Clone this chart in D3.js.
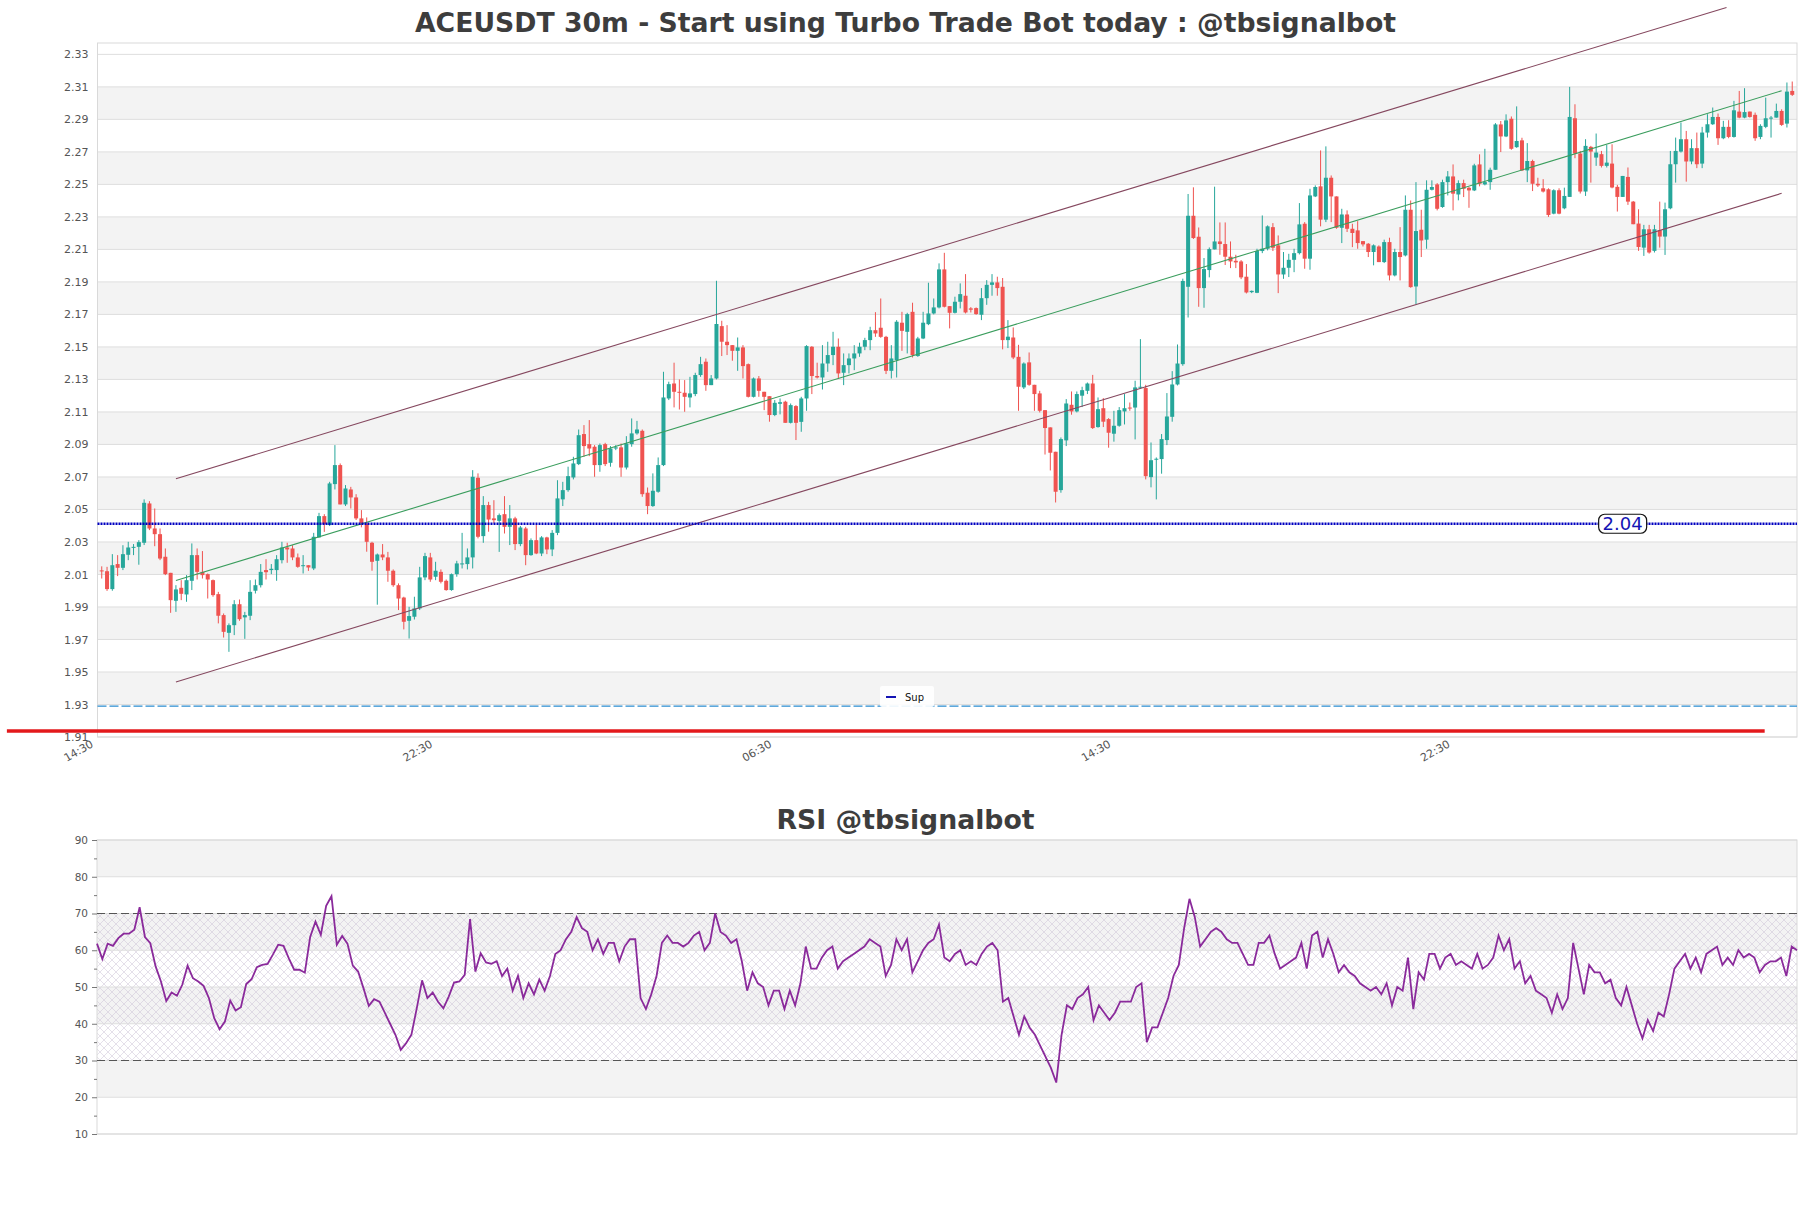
<!DOCTYPE html>
<html><head><meta charset="utf-8">
<script src="https://cdn.jsdelivr.net/npm/d3@7"></script>
<style>body{margin:0;background:#fff}svg{display:block}</style>
</head><body><svg id="c" width="1811" height="1208"></svg>
<script>
const titleText = "ACEUSDT 30m - Start using Turbo Trade Bot today : @tbsignalbot";
const rsiTitle = "RSI @tbsignalbot";
const openP = [2.0125,2.0120,2.0010,2.0164,2.0141,2.0221,2.0266,2.0270,2.0295,2.0537,2.0383,2.0348,2.0209,2.0110,1.9938,2.0018,1.9977,2.0061,2.0219,2.0116,2.0102,2.0065,1.9979,1.9850,1.9741,1.9788,1.9917,1.9836,1.9846,2.0000,2.0034,2.0127,2.0127,2.0127,2.0188,2.0266,2.0260,2.0205,2.0151,2.0157,2.0137,2.0328,2.0459,2.0404,2.0656,2.0773,2.0531,2.0623,2.0574,2.0445,2.0414,2.0295,2.0184,2.0223,2.0205,2.0123,2.0034,1.9958,1.9815,1.9840,1.9891,2.0082,2.0205,2.0086,2.0116,2.0061,2.0004,2.0102,2.0164,2.0164,2.0205,2.0695,2.0336,2.0527,2.0445,2.0430,2.0471,2.0393,2.0445,2.0287,2.0383,2.0219,2.0311,2.0229,2.0328,2.0254,2.0356,2.0562,2.0619,2.0697,2.0779,2.0964,2.0902,2.0886,2.0773,2.0902,2.0787,2.0875,2.0882,2.0758,2.0902,2.0968,2.0984,2.0603,2.0521,2.0609,2.0773,2.1183,2.1275,2.1224,2.1218,2.1189,2.1210,2.1327,2.1409,2.1265,2.1306,2.1628,2.1532,2.1511,2.1476,2.1497,2.1394,2.1193,2.1306,2.1224,2.1197,2.1081,2.1150,2.1163,2.1033,2.1136,2.1039,2.1183,2.1501,2.1321,2.1312,2.1398,2.1450,2.1501,2.1341,2.1388,2.1429,2.1460,2.1501,2.1542,2.1603,2.1618,2.1562,2.1353,2.1419,2.1649,2.1593,2.1716,2.1444,2.1552,2.1640,2.1706,2.1743,2.1977,2.1751,2.1710,2.1778,2.1815,2.1737,2.1739,2.1698,2.1800,2.1882,2.1897,2.1870,2.1542,2.1558,2.1439,2.1251,2.1405,2.1267,2.1214,2.1111,2.1005,2.0855,2.0619,2.0925,2.1144,2.1103,2.1200,2.1230,2.1275,2.1007,2.1123,2.1056,2.0966,2.1015,2.1103,2.1127,2.1127,2.1249,2.1247,2.0699,2.0806,2.0810,2.0927,2.1070,2.1269,2.1394,2.1870,2.2307,2.2178,2.1862,2.1973,2.2100,2.2149,2.2133,2.2055,2.2030,2.2026,2.1932,2.1837,2.1833,2.2090,2.2104,2.2237,2.2125,2.1946,2.1987,2.2036,2.2077,2.2258,2.2043,2.2426,2.2488,2.2283,2.2541,2.2426,2.2233,2.2315,2.2227,2.2217,2.2151,2.2135,2.2084,2.2118,2.2022,2.2145,2.1940,2.2084,2.2063,2.2344,2.1872,2.2221,2.2160,2.2467,2.2500,2.2361,2.2514,2.2549,2.2438,2.2508,2.2479,2.2463,2.2623,2.2500,2.2514,2.2590,2.2869,2.2795,2.2904,2.2729,2.2771,2.2586,2.2644,2.2504,2.2476,2.2470,2.2320,2.2464,2.2353,2.2423,2.2907,2.2690,2.2456,2.2731,2.2665,2.2686,2.2614,2.2628,2.2485,2.2423,2.2546,2.2394,2.2259,2.2111,2.2224,2.2091,2.2218,2.2179,2.2353,2.2624,2.2702,2.2778,2.2641,2.2723,2.2628,2.2819,2.2870,2.2915,2.2784,2.2854,2.2792,2.2948,2.2911,2.2948,2.2928,2.2792,2.2854,2.2907,2.2911,2.2952,2.2874,2.3075];
const highP = [2.0150,2.0147,2.0225,2.0219,2.0280,2.0301,2.0287,2.0311,2.0562,2.0551,2.0506,2.0383,2.0260,2.0110,2.0034,2.0065,2.0096,2.0291,2.0260,2.0244,2.0106,2.0069,1.9993,1.9860,1.9799,1.9942,1.9946,1.9870,2.0065,2.0069,2.0164,2.0194,2.0164,2.0219,2.0301,2.0295,2.0280,2.0229,2.0219,2.0157,2.0356,2.0479,2.0471,2.0670,2.0896,2.0783,2.0650,2.0639,2.0594,2.0496,2.0451,2.0301,2.0229,2.0287,2.0239,2.0131,2.0045,1.9963,1.9901,1.9963,2.0147,2.0233,2.0233,2.0178,2.0131,2.0069,2.0106,2.0184,2.0356,2.0260,2.0742,2.0722,2.0582,2.0547,2.0557,2.0475,2.0582,2.0527,2.0455,2.0398,2.0393,2.0322,2.0404,2.0336,2.0332,2.0373,2.0680,2.0670,2.0763,2.0824,2.0992,2.1019,2.1050,2.0896,2.0906,2.0910,2.0890,2.0896,2.0906,2.0951,2.1060,2.1045,2.0992,2.0635,2.0722,2.0820,2.1347,2.1286,2.1403,2.1300,2.1296,2.1316,2.1341,2.1439,2.1429,2.1327,2.1907,2.1661,2.1634,2.1511,2.1558,2.1511,2.1398,2.1312,2.1321,2.1224,2.1197,2.1173,2.1183,2.1169,2.1152,2.1142,2.1193,2.1511,2.1505,2.1403,2.1511,2.1532,2.1593,2.1552,2.1460,2.1460,2.1511,2.1526,2.1556,2.1624,2.1714,2.1798,2.1568,2.1511,2.1665,2.1716,2.1710,2.1772,2.1562,2.1716,2.1895,2.1798,2.2014,2.2079,2.1751,2.1809,2.1891,2.1948,2.1745,2.1743,2.1862,2.1911,2.1948,2.1932,2.1924,2.1665,2.1620,2.1513,2.1405,2.1466,2.1267,2.1230,2.1111,2.1005,2.0855,2.0943,2.1179,2.1226,2.1226,2.1255,2.1281,2.1328,2.1189,2.1185,2.1062,2.1107,2.1130,2.1210,2.1158,2.1292,2.1548,2.1267,2.0912,2.0820,2.0964,2.1216,2.1351,2.1515,2.1920,2.2441,2.2482,2.2235,2.2047,2.2112,2.2486,2.2266,2.2266,2.2149,2.2067,2.2034,2.2010,2.1847,2.2104,2.2309,2.2248,2.2262,2.2186,2.2084,2.2073,2.2104,2.2385,2.2268,2.2473,2.2494,2.2709,2.2734,2.2555,2.2426,2.2350,2.2340,2.2258,2.2274,2.2151,2.2139,2.2131,2.2125,2.2160,2.2172,2.2104,2.2237,2.2432,2.2401,2.2514,2.2344,2.2525,2.2525,2.2508,2.2529,2.2582,2.2623,2.2525,2.2529,2.2484,2.2627,2.2685,2.2719,2.2603,2.2877,2.2890,2.2931,2.2918,2.2980,2.2787,2.2754,2.2652,2.2541,2.2532,2.2476,2.2470,2.2476,2.2480,2.3100,2.2993,2.2706,2.2778,2.2737,2.2813,2.2706,2.2743,2.2747,2.2497,2.2552,2.2604,2.2398,2.2347,2.2251,2.2251,2.2251,2.2394,2.2388,2.2706,2.2788,2.2881,2.2829,2.2778,2.2819,2.2854,2.2932,2.2973,2.2936,2.2891,2.2895,2.3014,2.3075,2.3092,2.2948,2.2942,2.2870,2.3034,2.2921,2.2997,2.2962,2.3127,2.3133];
const lowP = [2.0075,1.9999,2.0000,2.0090,2.0127,2.0188,2.0219,2.0160,2.0281,2.0373,2.0274,2.0188,2.0096,1.9864,1.9870,1.9942,1.9932,2.0004,2.0069,2.0075,1.9952,1.9963,1.9799,1.9712,1.9624,1.9727,1.9815,1.9704,1.9819,1.9983,2.0020,2.0069,2.0102,2.0061,2.0168,2.0172,2.0188,2.0141,2.0106,2.0122,2.0127,2.0328,2.0362,2.0398,2.0623,2.0531,2.0521,2.0506,2.0435,2.0390,2.0240,2.0123,1.9914,2.0188,2.0055,2.0024,1.9881,1.9762,1.9706,1.9823,1.9881,2.0065,2.0055,2.0065,2.0045,2.0000,2.0000,2.0086,2.0137,2.0131,2.0137,2.0322,2.0295,2.0363,2.0414,2.0239,2.0352,2.0281,2.0250,2.0274,2.0157,2.0215,2.0225,2.0213,2.0225,2.0213,2.0342,2.0521,2.0609,2.0685,2.0773,2.0824,2.0828,2.0701,2.0732,2.0767,2.0763,2.0865,2.0701,2.0746,2.0886,2.0960,2.0578,2.0471,2.0516,2.0603,2.0767,2.1173,2.1128,2.1115,2.1101,2.1128,2.1197,2.1316,2.1230,2.1265,2.1300,2.1444,2.1450,2.1415,2.1353,2.1306,2.1189,2.1189,2.1193,2.1111,2.1040,2.1074,2.1085,2.1033,2.1029,2.0927,2.0978,2.1107,2.1210,2.1306,2.1238,2.1347,2.1388,2.1306,2.1265,2.1337,2.1357,2.1439,2.1480,2.1480,2.1562,2.1556,2.1333,2.1306,2.1312,2.1476,2.1460,2.1435,2.1439,2.1548,2.1634,2.1700,2.1737,2.1743,2.1614,2.1706,2.1737,2.1706,2.1712,2.1698,2.1665,2.1759,2.1815,2.1815,2.1485,2.1493,2.1425,2.1107,2.1241,2.1261,2.1107,2.1097,2.0838,2.0740,2.0543,2.0603,2.0890,2.1083,2.1097,2.1130,2.1210,2.0995,2.1003,2.1007,2.0880,2.0917,2.1009,2.1023,2.1107,2.0931,2.1243,2.0685,2.0636,2.0562,2.0720,2.0896,2.1040,2.1263,2.1384,2.1681,2.2164,2.1747,2.1741,2.1928,2.2100,2.2067,2.2004,2.1985,2.1985,2.1917,2.1829,2.1831,2.1831,2.2077,2.2094,2.2090,2.1831,2.1919,2.1930,2.1960,2.2069,2.1981,2.1975,2.2422,2.2242,2.2268,2.2268,2.2227,2.2139,2.2207,2.2114,2.2104,2.2118,2.2053,2.2002,2.2022,2.2016,2.1909,2.1934,2.1909,2.2057,2.1864,2.1762,2.2053,2.2104,2.2463,2.2340,2.2356,2.2432,2.2340,2.2402,2.2422,2.2356,2.2459,2.2488,2.2494,2.2467,2.2590,2.2699,2.2791,2.2713,2.2725,2.2582,2.2514,2.2459,2.2484,2.2450,2.2300,2.2316,2.2316,2.2347,2.2423,2.2661,2.2444,2.2429,2.2511,2.2614,2.2604,2.2604,2.2476,2.2333,2.2423,2.2374,2.2255,2.2091,2.2060,2.2074,2.2081,2.2111,2.2066,2.2347,2.2511,2.2696,2.2517,2.2624,2.2600,2.2600,2.2788,2.2866,2.2743,2.2778,2.2784,2.2788,2.2907,2.2907,2.2911,2.2768,2.2778,2.2846,2.2788,2.2911,2.2860,2.2850,2.3044];
const closeP = [2.0120,2.0010,2.0157,2.0141,2.0225,2.0266,2.0270,2.0299,2.0541,2.0383,2.0348,2.0198,2.0102,1.9942,2.0008,1.9981,2.0065,2.0219,2.0116,2.0096,2.0069,1.9973,1.9846,1.9747,1.9788,1.9917,1.9825,1.9850,1.9993,2.0034,2.0116,2.0114,2.0135,2.0194,2.0266,2.0254,2.0205,2.0147,2.0157,2.0143,2.0332,2.0459,2.0410,2.0660,2.0773,2.0531,2.0629,2.0574,2.0445,2.0414,2.0301,2.0178,2.0223,2.0205,2.0123,2.0034,1.9952,1.9809,1.9844,1.9891,2.0082,2.0213,2.0069,2.0123,2.0055,2.0004,2.0102,2.0168,2.0168,2.0205,2.0701,2.0332,2.0527,2.0438,2.0434,2.0465,2.0393,2.0445,2.0287,2.0389,2.0219,2.0311,2.0229,2.0328,2.0254,2.0356,2.0568,2.0619,2.0705,2.0783,2.0957,2.0890,2.0875,2.0773,2.0896,2.0779,2.0875,2.0882,2.0758,2.0906,2.0968,2.0992,2.0594,2.0521,2.0615,2.0773,2.1189,2.1271,2.1224,2.1218,2.1193,2.1214,2.1327,2.1394,2.1265,2.1306,2.1641,2.1532,2.1511,2.1476,2.1497,2.1382,2.1193,2.1306,2.1230,2.1193,2.1081,2.1156,2.1160,2.1033,2.1142,2.1033,2.1183,2.1505,2.1321,2.1312,2.1398,2.1450,2.1501,2.1337,2.1388,2.1429,2.1460,2.1501,2.1542,2.1603,2.1583,2.1562,2.1353,2.1429,2.1655,2.1599,2.1702,2.1450,2.1552,2.1649,2.1706,2.1743,2.1977,2.1747,2.1710,2.1778,2.1825,2.1712,2.1729,2.1702,2.1800,2.1882,2.1897,2.1862,2.1542,2.1563,2.1435,2.1255,2.1398,2.1267,2.1210,2.1107,2.1001,2.0849,2.0609,2.0933,2.1152,2.1103,2.1210,2.1234,2.1275,2.1001,2.1117,2.1040,2.0972,2.1015,2.1111,2.1123,2.1123,2.1251,2.1255,2.0705,2.0803,2.0812,2.0933,2.1072,2.1269,2.1398,2.1906,2.2307,2.2170,2.1862,2.1979,2.2102,2.2149,2.2133,2.2055,2.2026,2.2020,2.1928,2.1835,2.1845,2.2090,2.2104,2.2242,2.2110,2.1946,2.1987,2.2036,2.2077,2.2254,2.2043,2.2432,2.2484,2.2283,2.2541,2.2426,2.2233,2.2315,2.2227,2.2201,2.2139,2.2131,2.2084,2.2125,2.2022,2.2145,2.1940,2.2084,2.2053,2.2344,2.1868,2.2213,2.2155,2.2467,2.2484,2.2350,2.2514,2.2549,2.2443,2.2508,2.2473,2.2463,2.2617,2.2504,2.2514,2.2590,2.2869,2.2795,2.2894,2.2719,2.2767,2.2586,2.2644,2.2504,2.2494,2.2456,2.2312,2.2464,2.2320,2.2429,2.2915,2.2690,2.2456,2.2737,2.2702,2.2696,2.2614,2.2634,2.2481,2.2423,2.2552,2.2394,2.2255,2.2115,2.2224,2.2081,2.2224,2.2179,2.2347,2.2624,2.2706,2.2778,2.2641,2.2723,2.2624,2.2819,2.2870,2.2915,2.2784,2.2854,2.2792,2.2956,2.2911,2.2945,2.2915,2.2784,2.2860,2.2907,2.2911,2.2952,2.2866,2.3071,2.3051];
const rsiVals = [61.8,57.6,61.8,61.2,63.3,64.5,64.5,65.6,71.7,63.6,61.9,55.6,51.5,46.2,48.5,47.6,50.6,55.8,52.4,51.5,50.3,47.0,41.5,38.5,40.6,46.3,43.6,44.5,50.8,52.1,55.4,56.0,56.3,58.8,61.5,61.2,57.8,54.7,54.7,53.9,63.6,67.8,64.2,72.1,74.7,61.5,63.9,61.8,55.8,54.2,49.7,44.9,46.7,46.0,43.0,40.0,37.0,32.9,34.7,37.0,44.2,51.8,47.0,48.5,46.0,44.2,47.4,51.2,51.5,53.3,68.5,54.2,59.2,56.7,56.3,57.0,
53,55,49,53,47,51,48,52,49,53,
59,60,63,65,69,66,65,60,63,59,
62,62,57,61,63,63,47,44,48,53,
62,64,62,62,61,62,64,65,60,62,
70,65,64,62,63,57,49,54,51,50,
45,49,49,44,49,45,51,61,55,55,
58,60,61,55,57,58,59,60,61,63,
62,61,53,56,63,60,63,54,57,60,
62,63,67,58,57,59,60,56,57,56,
59,61,62,60,46,47,42,37,42,39,
37,34,31,28,24,37,45,44,47,48,
50,41,45,43,41,43,46,46,46,50,
51,35,39,39,43,47,53,56,66,74,
69,61,63,65,66,65,63,62,62,59,
56,56,62,62,64,59,55,56,57,58,
62,55,64,65,58,63,59,54,56,54,
53,51,50,49,50,48,51,45,50,49,
58,44,54,52,59,59,55,58,59,56,
57,56,55,59,55,56,58,64,60,63,
55,57,51,53,49,48,47,43,48,44,
47,62,55,48,56,54,54,51,52,47,
45,50,45,40,36,41,38,43,42,48,
55,57,59,55,58,54,59,60,61,56,
58,56,60,58,59,58,54,56,57,57,
58,53,61,60];
const priceTicks = [1.91,1.93,1.95,1.97,1.99,2.01,2.03,2.05,2.07,2.09,2.11,2.13,2.15,2.17,2.19,2.21,2.23,2.25,2.27,2.29,2.31,2.33];
const rsiTicks = [10,20,30,40,50,60,70,80,90];
const rsiMinor = [15,25,35,45,55,65,75,85];
const timeLabels = ["14:30","22:30","06:30","14:30","22:30"];
const timeTickIdx = [-0.8,63.2,127.2,191.2,255.2];
const channelUpper = [[14,2.0689],[306.6,2.3589]];
const channelMid = [[14,2.0063],[317,2.3076]];
const channelLower = [[14,1.9439],[317,2.2445]];
const supLevel = 2.0412, supLabel = "2.04", supLabelIdx = 287.0;
const dashLevel = 1.929;
const redLevel = 1.9137, redSpan = [-17.9, 313.8];
const rsiLevels = [70, 30];
const legendText = "Sup";

const svg = d3.select("#c");
const FONT = "DejaVu Sans, Verdana, sans-serif";
const N = closeP.length;
const GREEN = "#26a69a", RED = "#ef5350";

const x = d3.scaleLinear().domain([-0.8, 319.9]).range([97.5, 1797]);
const y = d3.scaleLinear().domain([1.91, 2.337]).range([737, 43]);
const xr = d3.scaleLinear().domain([0, N - 1]).range([97, 1797]);
const yr = d3.scaleLinear().domain([10, 90]).range([1134, 840]);

svg.append("rect").attr("width", 1811).attr("height", 1208).attr("fill", "#fff");

const defs = svg.append("defs");
const pat = defs.append("pattern").attr("id", "hatch").attr("width", 8).attr("height", 8).attr("patternUnits", "userSpaceOnUse");
pat.append("path").attr("d", "M0,0L8,8M8,0L0,8M-2,6L2,10M6,-2L10,2M-2,2L2,-2M6,10L10,6").attr("stroke", "#c9bdd3").attr("stroke-width", 0.6).attr("fill", "none");

// ---------- Main panel ----------
const main = svg.append("g");
const [X0, X1] = x.range();
for (let k = 0; k < priceTicks.length - 1; k++) {
  if (k % 2 === 1) {
    main.append("rect").attr("x", X0).attr("width", X1 - X0)
      .attr("y", y(priceTicks[k + 1])).attr("height", y(priceTicks[k]) - y(priceTicks[k + 1]))
      .attr("fill", "#f3f3f3");
  }
}
main.selectAll("line.grid").data(priceTicks).join("line")
  .attr("x1", X0).attr("x2", X1).attr("y1", d => y(d)).attr("y2", d => y(d))
  .attr("stroke", "#dedede").attr("stroke-width", 1);
main.append("rect").attr("x", X0).attr("y", y.range()[1]).attr("width", X1 - X0)
  .attr("height", y.range()[0] - y.range()[1]).attr("fill", "none").attr("stroke", "#d9d9d9");

const yAx = main.append("g").attr("transform", `translate(${X0},0)`)
  .call(d3.axisLeft(y).tickValues(priceTicks).tickSize(0).tickPadding(9).tickFormat(d3.format(".2f")));
yAx.select(".domain").remove();
yAx.selectAll("text").attr("font-family", FONT).attr("font-size", 11).attr("fill", "#555");

const xAx = main.append("g").attr("transform", `translate(0,${y.range()[0]})`)
  .call(d3.axisBottom(x).tickValues(timeTickIdx).tickSize(0).tickFormat((d, i) => timeLabels[i]));
xAx.select(".domain").remove();
xAx.selectAll("text").attr("font-family", FONT).attr("font-size", 11).attr("fill", "#555")
  .attr("text-anchor", "end").attr("x", 0).attr("y", 0).attr("dy", "0.75em")
  .attr("transform", "translate(-8,2) rotate(-30)");

// candles
const cg = main.append("g");
const bw = 4;
cg.selectAll("line.wick").data(d3.range(N)).join("line")
  .attr("x1", i => x(i)).attr("x2", i => x(i))
  .attr("y1", i => y(highP[i])).attr("y2", i => y(lowP[i]))
  .attr("stroke", i => closeP[i] >= openP[i] ? GREEN : RED).attr("stroke-width", 1);
cg.selectAll("rect.body").data(d3.range(N)).join("rect")
  .attr("x", i => x(i) - bw / 2).attr("width", bw)
  .attr("y", i => y(Math.max(openP[i], closeP[i])))
  .attr("height", i => Math.max(1, Math.abs(y(openP[i]) - y(closeP[i]))))
  .attr("fill", i => closeP[i] >= openP[i] ? GREEN : RED);

// channel
const lineGen = d3.line().x(d => x(d[0])).y(d => y(d[1]));
main.append("path").attr("d", lineGen(channelUpper)).attr("stroke", "#85485f").attr("stroke-width", 1.1).attr("fill", "none");
main.append("path").attr("d", lineGen(channelLower)).attr("stroke", "#85485f").attr("stroke-width", 1.1).attr("fill", "none");
main.append("path").attr("d", lineGen(channelMid)).attr("stroke", "#3a9d5d").attr("stroke-width", 1.1).attr("fill", "none");

// support line
main.append("line").attr("x1", X0).attr("x2", X1).attr("y1", y(supLevel)).attr("y2", y(supLevel))
  .attr("stroke", "#0000c0").attr("stroke-width", 2.6).attr("stroke-dasharray", "2,1");
const lbl = main.append("g").attr("transform", `translate(${x(supLabelIdx)},${y(supLevel)})`);
lbl.append("rect").attr("x", -24).attr("y", -9.5).attr("width", 48).attr("height", 19).attr("rx", 6)
  .attr("fill", "#fff").attr("stroke", "#111").attr("stroke-width", 1.2);
lbl.append("text").text(supLabel).attr("text-anchor", "middle").attr("dy", "0.36em")
  .attr("font-family", FONT).attr("font-size", 18).attr("fill", "#1414b4");

// dashed level
main.append("line").attr("x1", X0).attr("x2", X1).attr("y1", y(dashLevel)).attr("y2", y(dashLevel))
  .attr("stroke", "#2a8ccf").attr("stroke-width", 1.4).attr("stroke-dasharray", "9,3");

// red line
main.append("line").attr("x1", x(redSpan[0])).attr("x2", x(redSpan[1])).attr("y1", y(redLevel)).attr("y2", y(redLevel))
  .attr("stroke", "#e3191c").attr("stroke-width", 3.4);

// legend
const lg = main.append("g").attr("transform", "translate(880,686)");
lg.append("rect").attr("width", 54).attr("height", 21).attr("rx", 2).attr("fill", "#fff").attr("opacity", 0.9);
lg.append("line").attr("x1", 6).attr("x2", 16).attr("y1", 11).attr("y2", 11).attr("stroke", "#1414b4").attr("stroke-width", 2);
lg.append("text").text(legendText).attr("x", 25).attr("y", 14.5).attr("font-family", FONT).attr("font-size", 10).attr("fill", "#111");

svg.append("text").text(titleText).attr("x", 905.5).attr("y", 32).attr("text-anchor", "middle")
  .attr("font-family", FONT).attr("font-weight", "bold").attr("font-size", 26.7).attr("fill", "#3d3d3d");

// ---------- RSI panel ----------
const rp = svg.append("g");
const [R0, R1] = xr.range();
for (let k = 0; k < rsiTicks.length - 1; k++) {
  if (k % 2 === 1) {
    rp.append("rect").attr("x", R0).attr("width", R1 - R0)
      .attr("y", yr(rsiTicks[k + 1])).attr("height", yr(rsiTicks[k]) - yr(rsiTicks[k + 1]))
      .attr("fill", "#f3f3f3");
  }
}
rp.append("rect").attr("x", R0).attr("width", R1 - R0).attr("y", yr(rsiLevels[0]))
  .attr("height", yr(rsiLevels[1]) - yr(rsiLevels[0])).attr("fill", "url(#hatch)").attr("opacity", 0.8);
rp.selectAll("line.grid").data(rsiTicks).join("line")
  .attr("x1", R0).attr("x2", R1).attr("y1", d => yr(d)).attr("y2", d => yr(d))
  .attr("stroke", "#dedede");
rp.append("rect").attr("x", R0).attr("y", yr.range()[1]).attr("width", R1 - R0)
  .attr("height", yr.range()[0] - yr.range()[1]).attr("fill", "none").attr("stroke", "#d9d9d9");
rp.selectAll("line.lvl").data(rsiLevels).join("line")
  .attr("x1", R0).attr("x2", R1).attr("y1", d => yr(d)).attr("y2", d => yr(d))
  .attr("stroke", "#555").attr("stroke-width", 1.2).attr("stroke-dasharray", "8,4");

const ryAx = rp.append("g").attr("transform", `translate(${R0},0)`)
  .call(d3.axisLeft(yr).tickValues(rsiTicks).tickSize(5).tickPadding(4));
ryAx.select(".domain").remove();
ryAx.selectAll("line").attr("stroke", "#777");
ryAx.selectAll("text").attr("font-family", FONT).attr("font-size", 10.5).attr("fill", "#555");
const rmAx = rp.append("g").attr("transform", `translate(${R0},0)`)
  .call(d3.axisLeft(yr).tickValues(rsiMinor).tickSize(3).tickFormat(""));
rmAx.select(".domain").remove();
rmAx.selectAll("line").attr("stroke", "#777");

rp.append("path").datum(rsiVals)
  .attr("d", d3.line().x((d, i) => xr(i)).y(d => yr(d)))
  .attr("fill", "none").attr("stroke", "#8a2a9b").attr("stroke-width", 1.8);

svg.append("text").text(rsiTitle).attr("x", 905.5).attr("y", 829).attr("text-anchor", "middle")
  .attr("font-family", FONT).attr("font-weight", "bold").attr("font-size", 26.7).attr("fill", "#3d3d3d");
</script>
</body></html>
